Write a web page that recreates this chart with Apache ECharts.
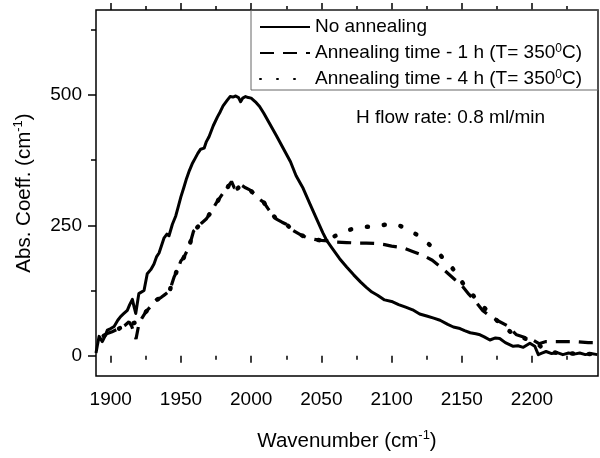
<!DOCTYPE html>
<html>
<head>
<meta charset="utf-8">
<script src="https://cdn.jsdelivr.net/npm/echarts@6/dist/echarts.min.js"></script>
<style>html,body{margin:0;padding:0;background:#fff;}#chart{width:600px;height:458px;}</style>
</head>
<body>
<div id="chart"></div>
<script>
// ---- data ----
const waveNoAnneal = [1889.5,1890.5,1891.7,1894,1896,1897.6,1900,1902.4,1905,1907,1909,1911.8,1913.5,1915.4,1916.5,1917.8,1920,1923.7,1926,1928.5,1930.8,1932.7,1934.4,1936,1938,1940,1941.5,1943.9,1946.3,1948,1950,1952,1954,1956,1958,1960,1962,1964,1966.5,1968,1970,1973,1976,1978,1980,1983,1985,1987,1989,1991,1992.5,1994,1996,1998,2000,2003,2006,2009,2013,2018,2023,2028,2032,2037,2042,2047,2051,2054,2058,2063,2068,2073,2078,2082,2086,2090,2095,2100,2105,2110,2115,2120,2125,2130,2134.5,2140,2144,2148.7,2152,2156,2160,2163,2166,2170,2174,2177,2181,2186.6,2190,2193.8,2198.5,2202,2204.5,2207,2210,2214,2218,2222,2226,2230,2234,2238,2242,2246.5];
const absNoAnneal  = [5,20,37,27,38,49,52,56,68,75,80,87,98,108,95,81,119,125,157,165,176,190,197,210,226,233,230,252,268,285,305,322,340,355,368,378,388,396,398,410,420,441,458,468,479,490,497,496,498,495,487,494,497,495,494,487,478,465,446,422,397,372,345,321,290,260,236,220,205,186,170,155,141,131,122,116,107,104,98,93,88,80,76,72,68,60,55,52,48,44,42,40,36,30,34,33,25,18,19,16,24,18,2,5,8,4,6,2,5,3,5,2,4,2];

const wave1h = [1895,1898,1901,1906,1910,1913,1915,1918,1920,1922,1925,1929,1932,1936,1939,1942,1945,1948,1950,1952,1955,1957,1959,1962,1965,1968,1971,1975,1979,1983,1986,1988,1990,1993,1996,1999,2003,2006,2009,2012,2015,2018,2022,2025,2030,2035,2040,2045,2050,2055,2060,2068,2075,2082,2089,2095,2100,2108,2115,2122,2129,2135,2140,2145,2149,2155,2160,2165,2170,2175,2182,2189,2195,2200,2205,2210,2220,2230,2240,2247];
const abs1h  = [38,43,46,52,58,65,56,32,60,71,84,96,106,112,118,125,150,168,182,188,205,220,239,247,255,262,274,292,308,322,334,322,320,327,322,318,308,300,294,282,271,262,256,252,240,232,226,223,221,220,218,217,216,216,215,213,210,207,200,193,183,170,158,146,138,118,103,86,76,68,58,40,35,31,23,27,27,27,25,25];

const wave4h = [1895,1898,1901,1906,1910,1913,1916,1918,1921,1925,1929,1932,1936,1939,1942,1945,1948,1950,1952,1955,1957,1959,1962,1965,1968,1971,1975,1979,1983,1986,1988,1990,1993,1996,1999,2003,2006,2009,2012,2015,2018,2022,2025,2030,2035,2040,2045,2050,2055,2061,2068,2075,2082,2089,2095,2100,2106,2112,2118,2124,2129,2134,2139,2143,2147,2151,2156,2161,2166,2172,2180,2189,2195,2200,2205,2210,2216,2222,2230,2240,2247];
const abs4h  = [38,43,46,52,58,65,62,64,71,84,96,106,112,118,125,150,168,182,188,205,220,239,247,255,262,274,292,308,322,334,322,320,327,322,318,308,300,294,282,271,262,256,252,240,232,226,223,221,224,231,240,245,247,248,251,253,249,242,232,220,208,195,180,169,154,138,122,106,92,75,55,37,33,28,20,11,6,5,4,3,3];

const seriesNames = ['No annealing', 'Annealing time - 1 h (T= 350{sup|0}C)', 'Annealing time - 4 h (T= 350{sup|0}C)'];
const xMajorTicks = [1900,1950,2000,2050,2100,2150,2200];
const xMinorTicks = [1925,1975,2025,2075,2125,2175,2225];
const yMajorTicks = [0,250,500];
const yMinorTicks = [125,375,625];
const xRange = [1889.5, 2247];
const yRange = [-39, 663];

const zip = (a, b) => a.map((v, i) => [v, b[i]]);
const FONT = '"Liberation Sans", Arial, sans-serif';

const chart = echarts.init(document.getElementById('chart'), null, {renderer: 'canvas'});

function xAxisDef(pos, ticks, len, labels) {
  return {
    type: 'value', position: pos, min: xRange[0], max: xRange[1],
    axisLine: {show: false}, splitLine: {show: false},
    axisTick: {show: true, inside: false, length: len, customValues: ticks, lineStyle: {color: '#000', width: 1.5}},
    axisLabel: labels ? {show: true, customValues: ticks, margin: 14, color: '#000', fontSize: 19, fontFamily: FONT,
      formatter: v => String(v)} : {show: false}
  };
}
function yAxisDef(pos, ticks, len, labels) {
  return {
    type: 'value', position: pos, min: yRange[0], max: yRange[1],
    axisLine: {show: false}, splitLine: {show: false},
    axisTick: {show: true, inside: false, length: len, customValues: ticks, lineStyle: {color: '#000', width: 1.5}},
    axisLabel: labels ? {show: true, customValues: ticks, margin: 14, color: '#000', fontSize: 19, fontFamily: FONT,
      formatter: v => String(v)} : {show: false}
  };
}

const supStyle = {fontSize: 13, verticalAlign: 'top', lineHeight: 24, fontFamily: FONT, color: '#000', padding: [0,0,10,0]};

const xMain = xAxisDef('bottom', xMajorTicks, 7, true);
xMain.name = 'Wavenumber (cm{sup|-1})';
xMain.nameLocation = 'middle';
xMain.nameGap = 53;
xMain.nameTextStyle = {color: '#000', fontSize: 20.5, fontFamily: FONT, lineHeight: 24, rich: {sup: supStyle}};

const yMain = yAxisDef('left', yMajorTicks, 8, true);
yMain.name = 'Abs. Coeff. (cm{sup|-1})';
yMain.nameLocation = 'middle';
yMain.nameGap = 60;
yMain.nameTextStyle = {color: '#000', fontSize: 20.5, fontFamily: FONT, lineHeight: 24, rich: {sup: supStyle}};

const option = {
  animation: false,
  backgroundColor: '#fff',
  grid: {left: 96, right: 2, top: 10, bottom: 78, show: true, borderColor: '#000', borderWidth: 1.5, backgroundColor: 'transparent'},
  xAxis: [
    xMain,
    xAxisDef('bottom', xMinorTicks, 4, false),
    xAxisDef('top', xMajorTicks, 7, false),
    xAxisDef('top', xMinorTicks, 4, false)
  ],
  yAxis: [
    yMain,
    yAxisDef('left', yMinorTicks, 5, false)
  ],
  legend: {
    orient: 'vertical', left: 254, top: 12, itemWidth: 50, itemHeight: 10, itemGap: 6,
    data: seriesNames,
    itemStyle: {opacity: 0},
    textStyle: {color: '#000', fontSize: 19, fontFamily: FONT, lineHeight: 20,
      rich: {sup: {fontSize: 12, verticalAlign: 'top', lineHeight: 20, fontFamily: FONT, color: '#000', padding: [0,0,8,0]}}},
    selectedMode: false
  },
  graphic: [
    {type: 'rect', shape: {x: 251, y: 10, width: 347, height: 80}, style: {fill: 'none', stroke: '#666', lineWidth: 1}, z: 1},
    {type: 'text', left: 356, top: 108, style: {text: 'H flow rate: 0.8 ml/min', fill: '#000', fontSize: 19, fontFamily: FONT}}
  ],
  series: [
    {name: seriesNames[0], type: 'line', data: zip(waveNoAnneal, absNoAnneal), showSymbol: false, symbol: 'none',
      lineStyle: {color: '#000', width: 3, type: 'solid', join: 'round'}, itemStyle: {color: '#000'}, z: 3},
    {name: seriesNames[1], type: 'line', data: zip(wave1h, abs1h), showSymbol: false, symbol: 'none',
      lineStyle: {color: '#000', width: 3.2, type: [14, 9]}, itemStyle: {color: '#000'}, z: 3},
    {name: seriesNames[2], type: 'line', data: zip(wave4h, abs4h), showSymbol: false, symbol: 'none',
      lineStyle: {color: '#000', width: 4.5, type: [1, 16], cap: 'round'}, itemStyle: {color: '#000'}, z: 3}
  ]
};
chart.setOption(option);
</script>
</body>
</html>
